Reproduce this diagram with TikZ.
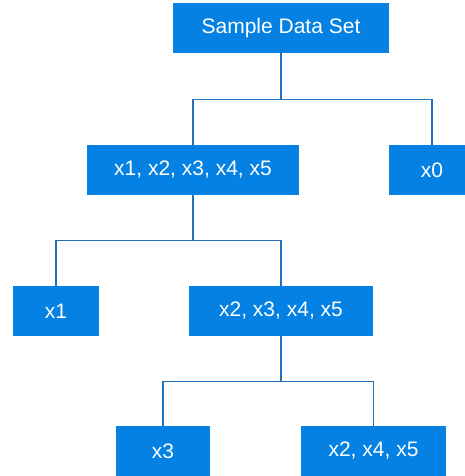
\documentclass[tikz,border=0pt]{standalone}
\usepackage{fontspec}
\setmainfont{Liberation Sans}
\definecolor{boxblue}{RGB}{4,129,226}
\definecolor{lineblue}{RGB}{35,112,188}

\begin{document}
\begin{tikzpicture}[x=1pt,y=1pt,
  set/.style={fill=boxblue,text=white,minimum height=50pt,inner sep=0pt,
    font=\fontsize{21}{25}\selectfont},
  link/.style={draw=lineblue,line width=1.1pt}]
\useasboundingbox (0,0) rectangle (464,476);

\node [set,minimum width=216pt] (root) at (281,448) {Sample Data Set};

\node [set,minimum width=212pt] (s12345) at (193,306) {x1, x2, x3, x4, x5};
\node [set,minimum width=86pt]  (s0)     at (432,306) {x0};

\node [set,minimum width=86pt]  (s1)     at (56,165)  {x1};
\node [set,minimum width=184pt] (s2345)  at (281,165) {x2, x3, x4, x5};

\node [set,minimum width=94pt]  (s3)     at (163,25)  {x3};
\node [set,minimum width=145pt] (s245)   at (373.5,25) {x2, x4, x5};

% splits
\draw [link] (root.south) -- ++(0,-46) -| (s12345.north);
\draw [link] (root.south) -- ++(0,-46) -| (s0.north);

\draw [link] (s12345.south) -- ++(0,-45) -| (s1.north);
\draw [link] (s12345.south) -- ++(0,-45) -| (s2345.north);

\draw [link] (s2345.south) -- ++(0,-45) -| (s3.north);
\draw [link] (s2345.south) -- ++(0,-45) -| (s245.north);
\end{tikzpicture}
\end{document}
